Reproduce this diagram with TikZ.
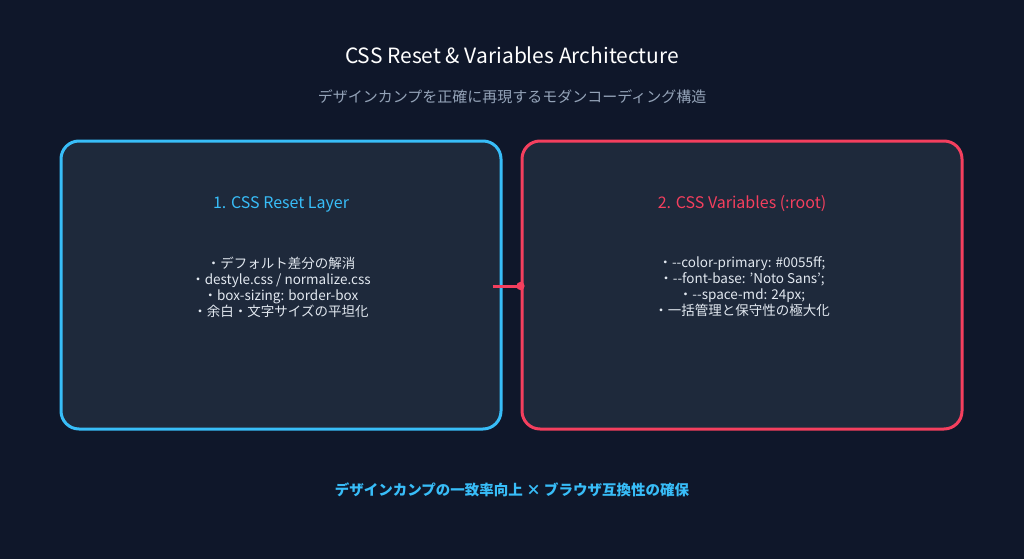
\documentclass[tikz,border=0pt]{standalone}
\usepackage{fontspec}
\setmainfont{Noto Sans CJK JP}
\usetikzlibrary{arrows.meta}
\definecolor{bg}{HTML}{0F172A}
\definecolor{boxbg}{HTML}{1E293B}
\definecolor{cblue}{HTML}{38BDF8}
\definecolor{cred}{HTML}{F43F5E}
\definecolor{sub}{HTML}{94A3B8}
\definecolor{txt}{HTML}{E2E8F0}
\newcommand{\sq}{\char"27\relax}
\begin{document}
\begin{tikzpicture}[x=1pt,y=-1pt,
  box/.style={draw, line width=3pt, fill=boxbg, rounded corners=18pt, minimum width=440pt, minimum height=288pt, inner sep=0pt},
  head/.style={font=\fontsize{16}{19}\selectfont},
  body/.style={font=\fontsize{13.5}{16}\selectfont, text=txt, align=center}]
\fill[bg] (0,0) rectangle (1024,559);
\useasboundingbox (0,0) rectangle (1024,559);
\node[text=white, font=\fontsize{21}{24}\selectfont] (title) at (512,55) {CSS Reset \& Variables Architecture};
\node[text=sub, font=\fontsize{15}{17}\selectfont] (subt) at (512,97) {デザインカンプを正確に再現するモダンコーディング構造};
\node[box, draw=cblue] (L) at (281,285) {};
\node[box, draw=cred] (R) at (742,285) {};
\node[head, text=cblue] (Lh) at (281,204) {1. CSS Reset Layer};
\node[head, text=cred] (Rh) at (742,204) {2. CSS Variables (:root)};
\node[body] (Lb) at (281,287) {・デフォルト差分の解消\\・destyle.css / normalize.css\\・box-sizing: border-box\\・余白・文字サイズの平坦化};
\node[body] (Rb) at (742,287) {・{-}{-}color-primary: \#0055ff;\\・{-}{-}font-base: \sq Noto Sans\sq;\\・{-}{-}space-md: 24px;\\・一括管理と保守性の極大化};
\draw[cred, line width=3pt, -{Circle[length=8pt]}] ([xshift=-10pt,yshift=-1pt]L.east) coordinate (a) -- ([xshift=4pt,yshift=-1pt]R.west) coordinate (b);
\node[text=cblue, font=\bfseries\fontsize{14.5}{17}\selectfont] (foot) at (512,490) {デザインカンプの一致率向上 × ブラウザ互換性の確保};
\end{tikzpicture}
\end{document}
